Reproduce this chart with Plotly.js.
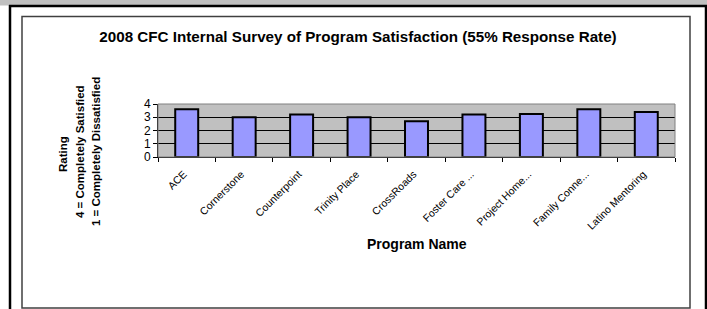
<!DOCTYPE html>
<html><head><meta charset="utf-8">
<script src="https://cdn.plot.ly/plotly-3.0.1.min.js"></script>
<style>html,body{margin:0;padding:0;background:#fff}#c{width:707px;height:309px}</style>
</head><body><div id="c"></div>
<script>
const programs = ["ACE","Cornerstone","Counterpoint","Trinity Place","CrossRoads","Foster Care ...","Project Home...","Family Conne...","Latino Mentoring"];
const ratings = [3.6, 3.0, 3.2, 3.0, 2.7, 3.2, 3.25, 3.6, 3.4];
const yTicks = [0,1,2,3,4];

const W=707,H=309,L=158,R=675,T=104,B=157;
const px = x => (x-L)/(R-L);
const py = y => (B-y)/(B-T);
const F = "Arial, 'Liberation Sans', sans-serif";

const shapes = [
  {type:'rect',xref:'paper',yref:'paper',x0:px(0),x1:px(707),y0:py(0),y1:py(5.5),fillcolor:'#C0C0C0',line:{width:0},layer:'below'},
  {type:'line',xref:'paper',yref:'paper',x0:px(9),x1:px(707),y0:py(6),y1:py(6),line:{color:'#000',width:2.5}},
  {type:'line',xref:'paper',yref:'paper',x0:px(10),x1:px(10),y0:py(5),y1:py(309),line:{color:'#000',width:2.5}},
  {type:'line',xref:'paper',yref:'paper',x0:px(706),x1:px(706),y0:py(5),y1:py(309),line:{color:'#000',width:2.5}},
  {type:'rect',xref:'paper',yref:'paper',x0:px(22),x1:px(690),y0:py(16.5),y1:py(308),line:{color:'#404040',width:1.5}},
  {type:'rect',xref:'paper',yref:'paper',x0:0,x1:1,y0:0,y1:1,line:{color:'#808080',width:1}}
];

const yTitleFont = {family:F,size:11.5,color:'#000'};
const ann = (x,y,text,font,angle) => ({xref:'paper',yref:'paper',x:px(x),y:py(y),text:text,
  textangle:angle||0,showarrow:false,font:font,xanchor:'center',yanchor:'middle'});
const annotations = [
  ann(63,154,'<b>Rating</b>',yTitleFont,-90),
  ann(80,152,'<b>4 = Completely Satisfied</b>',yTitleFont,-90),
  ann(96,152,'<b>1 = Completely Dissatisfied</b>',yTitleFont,-90),
  ann(417,244,'<b>Program Name</b>',{family:F,size:14,color:'#000'},0)
];

Plotly.newPlot('c',[{
  type:'bar', x:programs, y:ratings,
  marker:{color:'#9999FF',line:{color:'#000',width:2}},
  hoverinfo:'none'
}],{
  width:W,height:H,
  margin:{l:L,r:W-R,t:T,b:H-B,pad:0},
  paper_bgcolor:'#fff',plot_bgcolor:'#C0C0C0',
  bargap:0.6,
  showlegend:false,
  title:{text:'<b>2008 CFC Internal Survey of Program Satisfaction (55% Response Rate)</b>',
    font:{family:F,size:15.2,color:'#000'},x:358/W,xref:'container',xanchor:'center',
    y:1-37/H,yref:'container',yanchor:'middle'},
  xaxis:{type:'category',tickangle:-45,tickfont:{family:F,size:10.5,color:'#000'},
    ticks:'outside',tickson:'boundaries',ticklen:4,tickcolor:'#000',
    ticklabelstandoff:6,ticklabelshift:-3,
    showline:true,linecolor:'#000',linewidth:1,showgrid:false,
    automargin:false},
  yaxis:{range:[0,4],tickvals:yTicks,ticktext:yTicks.map(String),
    tickfont:{family:F,size:12,color:'#000'},ticks:'outside',ticklen:4,tickcolor:'#000',
    showline:true,linecolor:'#000',linewidth:1,showgrid:true,gridcolor:'#000',gridwidth:1,
    zeroline:false,automargin:false},
  shapes:shapes,annotations:annotations
},{staticPlot:true});
</script></body></html>
